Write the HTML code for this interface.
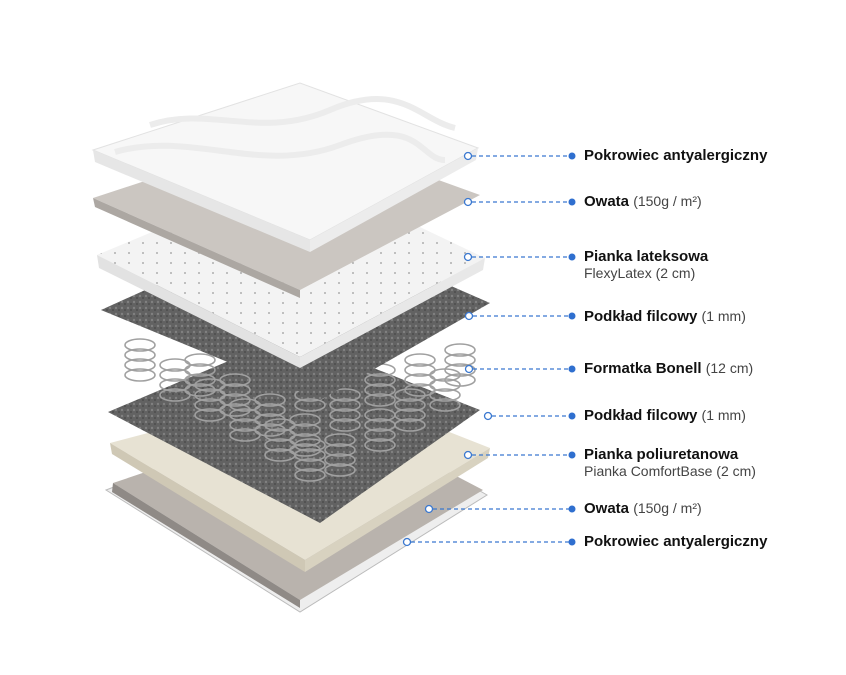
<!DOCTYPE html>
<html><head><meta charset="utf-8"><style>
body{margin:0;background:#fff;}
.wrap{position:relative;width:846px;height:675px;overflow:hidden;background:#fff;font-family:"Liberation Sans",sans-serif;}
.lbl{position:absolute;left:584px;font-size:15px;color:#111;line-height:17px;white-space:nowrap}
.lbl b{font-weight:bold}
.lbl span{color:#444;font-size:14px}
</style></head><body><div class="wrap">
<svg width="846" height="675" style="position:absolute;left:0;top:0">
<defs>
<pattern id="dots" width="14" height="10" patternUnits="userSpaceOnUse"><circle cx="3" cy="3" r="0.9" fill="#999"/></pattern>
<pattern id="felt" width="6" height="6" patternUnits="userSpaceOnUse"><rect width="6" height="6" fill="#626262"/><circle cx="2" cy="2" r="1.2" fill="#808080"/><circle cx="5" cy="4" r="0.9" fill="#474747"/></pattern>
<g id="sp" fill="none" stroke="#a0a0a0" stroke-width="1.6">
<ellipse cx="0" cy="0" rx="15" ry="6"/><ellipse cx="0" cy="10" rx="15" ry="6"/><ellipse cx="0" cy="20" rx="15" ry="6"/><ellipse cx="0" cy="30" rx="15" ry="6"/>
</g>
</defs>
<!-- bottom cover -->
<polygon points="106,490 330,405 487,495 300,612" fill="#eeeeee" stroke="#bbb"/>
<polygon points="113,483 330,410 483,490 300,600" fill="#b9b3ad"/>
<polygon points="113,483 300,600 300,608 112,492" fill="#8f8a86"/>
<!-- poly -->
<polygon points="110,443 330,385 490,448 305,560" fill="#e7e2d3"/>
<polygon points="110,443 305,560 305,572 112,454" fill="#cfc8b5"/>
<polygon points="305,560 490,448 488,458 305,572" fill="#d8d2c0"/>
<!-- felt2 -->
<polygon points="108,412 290,335 480,410 320,523" fill="url(#felt)"/>
<!-- springs -->
<use href="#sp" x="140" y="345"/><use href="#sp" x="175" y="365"/><use href="#sp" x="210" y="385"/><use href="#sp" x="245" y="405"/><use href="#sp" x="280" y="425"/><use href="#sp" x="310" y="445"/>
<use href="#sp" x="200" y="360"/><use href="#sp" x="235" y="380"/><use href="#sp" x="270" y="400"/><use href="#sp" x="305" y="420"/><use href="#sp" x="340" y="440"/>
<use href="#sp" x="310" y="375"/><use href="#sp" x="345" y="395"/><use href="#sp" x="380" y="415"/><use href="#sp" x="410" y="395"/><use href="#sp" x="445" y="375"/><use href="#sp" x="460" y="350"/>
<use href="#sp" x="380" y="370"/><use href="#sp" x="420" y="360"/>
<!-- felt1 -->
<polygon points="101,310 300,220 490,303 320,400" fill="url(#felt)"/>
<!-- latex -->
<polygon points="97,255 300,170 485,258 300,357" fill="#f3f3f3"/>
<polygon points="97,255 300,170 485,258 300,357" fill="url(#dots)"/>
<polygon points="97,255 300,357 300,368 99,268" fill="#e2e2e2"/>
<polygon points="300,357 485,258 483,270 300,368" fill="#e8e8e8"/>
<!-- owata -->
<polygon points="93,198 300,130 480,195 300,290" fill="#cbc6c1"/>
<polygon points="93,198 300,290 300,298 95,207" fill="#aca7a2"/>
<!-- cover -->
<polygon points="93,150 300,83 478,148 310,240" fill="#f7f7f7" stroke="#e2e2e2"/>
<path d="M150,125 C210,105 260,140 330,110 S420,120 455,128" fill="none" stroke="#ececec" stroke-width="6"/>
<path d="M115,152 C190,130 260,175 340,145 S420,160 445,160" fill="none" stroke="#ececec" stroke-width="6"/>
<polygon points="93,150 310,240 310,252 95,162" fill="#e6e6e6"/>
<polygon points="310,240 478,148 476,160 310,252" fill="#ececec"/>
<!-- connectors -->
<g stroke="#3a78d0" stroke-width="1.2" stroke-dasharray="4,3" fill="none">
<line x1="472" y1="156" x2="570" y2="156"/><line x1="472" y1="202" x2="570" y2="202"/><line x1="472" y1="257" x2="570" y2="257"/>
<line x1="473" y1="316" x2="570" y2="316"/><line x1="473" y1="369" x2="570" y2="369"/><line x1="492" y1="416" x2="570" y2="416"/>
<line x1="472" y1="455" x2="570" y2="455"/><line x1="433" y1="509" x2="570" y2="509"/><line x1="411" y1="542" x2="570" y2="542"/>
</g>
<g fill="#fff" stroke="#3a78d0" stroke-width="1.3">
<circle cx="468" cy="156" r="3.5"/><circle cx="468" cy="202" r="3.5"/><circle cx="468" cy="257" r="3.5"/><circle cx="469" cy="316" r="3.5"/><circle cx="469" cy="369" r="3.5"/><circle cx="488" cy="416" r="3.5"/><circle cx="468" cy="455" r="3.5"/><circle cx="429" cy="509" r="3.5"/><circle cx="407" cy="542" r="3.5"/>
</g>
<g fill="#2f6fcf">
<circle cx="572" cy="156" r="3.5"/><circle cx="572" cy="202" r="3.5"/><circle cx="572" cy="257" r="3.5"/><circle cx="572" cy="316" r="3.5"/><circle cx="572" cy="369" r="3.5"/><circle cx="572" cy="416" r="3.5"/><circle cx="572" cy="455" r="3.5"/><circle cx="572" cy="509" r="3.5"/><circle cx="572" cy="542" r="3.5"/>
</g>
</svg>
<div class="lbl" style="top:147px"><b>Pokrowiec antyalergiczny</b></div>
<div class="lbl" style="top:193px"><b>Owata</b> <span>(150g / m²)</span></div>
<div class="lbl" style="top:248px"><b>Pianka lateksowa</b><br><span>FlexyLatex (2 cm)</span></div>
<div class="lbl" style="top:308px"><b>Podkład filcowy</b> <span>(1 mm)</span></div>
<div class="lbl" style="top:360px"><b>Formatka Bonell</b> <span>(12 cm)</span></div>
<div class="lbl" style="top:407px"><b>Podkład filcowy</b> <span>(1 mm)</span></div>
<div class="lbl" style="top:446px"><b>Pianka poliuretanowa</b><br><span>Pianka ComfortBase (2 cm)</span></div>
<div class="lbl" style="top:500px"><b>Owata</b> <span>(150g / m²)</span></div>
<div class="lbl" style="top:533px"><b>Pokrowiec antyalergiczny</b></div>
</div></body></html>
